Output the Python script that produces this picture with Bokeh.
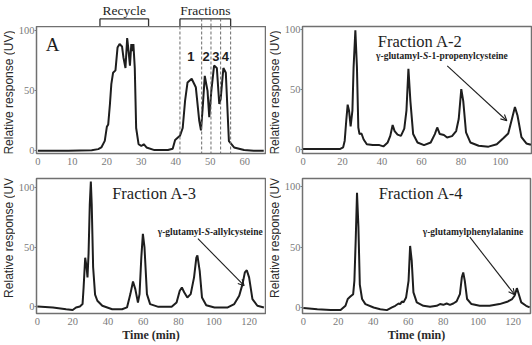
import math
from bokeh.plotting import figure
from bokeh.layouts import column, row
from bokeh.models import Label, Arrow, OpenHead, FixedTicker, Range1d, Span
from bokeh.embed import file_html
from bokeh.resources import INLINE
from bokeh.core.properties import value

# ---------------- data ----------------
a_time = [0, 8.8, 15.6, 17.5, 18.4, 19.4, 20.0, 20.4, 20.9, 21.3,
          21.8, 22.5, 23.1, 23.7, 24.4, 24.8, 25.4, 25.9, 26.3, 26.7,
          27.1, 27.4, 27.7, 28.1, 28.5, 29.2, 30.0, 30.7, 31.5, 33.8,
          37.7, 39.1, 39.8, 40.6, 41.2, 42.0, 42.7, 43.4, 44.6, 45.8,
          46.8, 47.3, 47.8, 48.4, 49.2, 49.7, 50.3, 51.1, 51.9, 52.6,
          53.0, 53.8, 54.5, 55.4, 56.9, 59.8, 62.6, 65.5]
a_resp = [0, 0, 0.5, 1.4, 2.8, 8.3, 20, 22, 39, 55.6,
          65, 67, 86, 89, 87, 78, 69, 94, 83, 71,
          89, 83, 89, 69, 19, 5.5, 4, 5.5, 2.8, 0.6,
          0.6, 1.7, 9, 11, 12.5, 19, 42, 57, 60, 53,
          25, 17, 36, 62.5, 50, 28, 50, 71, 69, 39,
          43, 69, 65, 8, 2.8, 0.6, 0, 0]
recycle_span = [18.0, 32.1]
fraction_bounds = [41.2, 47.5, 50.2, 53.0, 55.9]
fraction_labels = ["1", "2", "3", "4"]
fraction_label_x = [44.4, 48.8, 51.6, 54.4]
fraction_label_y = [79, 79, 79, 79]
bracket_names = ["Recycle", "Fractions"]

a2_time = [0, 18.6, 20.3, 21.1, 21.9, 22.6, 23.3, 24.1, 25.0, 25.6,
           26.5, 27.3, 28.0, 28.6, 29.6, 30.7, 32.3, 35.3, 38.7, 40.7,
           42.9, 44.2, 45.4, 46.4, 47.9, 49.6, 51.3, 52.4, 53.4, 54.4,
           55.8, 58.0, 61.3, 64.7, 66.8, 68.0, 69.3, 71.4, 73.0, 75.5,
           77.6, 78.9, 80.2, 81.2, 82.6, 84.8, 89.0, 94.0, 98.2, 101.5,
           104.0, 106.0, 107.4, 108.7, 110.7, 113.2, 115.5]
a2_resp = [0, 0, 1.4, 7, 24, 37, 32, 19, 32, 68,
           99, 68, 18, 12.5, 13, 8, 4, 3.3, 3.3, 2.2,
           5.5, 11, 20, 15, 12, 11, 17, 32, 67, 40,
           12.5, 5.5, 3.3, 5.5, 12.5, 18, 12.5, 11.7, 9.7, 10.8,
           15, 25, 50, 40, 14, 5.5, 2.8, 2, 4, 9,
           13, 26, 35, 28, 10, 4.7, 3.6]

a3_time = [0, 8.8, 16.3, 20.0, 21.9, 24.1, 25.6, 26.2, 27.1, 27.9,
           28.4, 29.0, 29.7, 30.3, 30.8, 31.6, 32.7, 34.0, 36.8, 42.4,
           48.0, 50.8, 52.7, 54.2, 55.5, 57.0, 57.9, 58.9, 59.8, 60.7,
           62.1, 63.9, 68.6, 76.1, 78.9, 80.7, 81.9, 83.2, 85.0, 86.9,
           88.8, 90.1, 90.7, 92.0, 93.3, 95.7, 100.4, 107.9, 111.6, 114.4,
           116.3, 117.6, 118.7, 120.0, 121.9, 124.7, 128.4]
a3_resp = [0, -0.8, -2.3, -3, -0.8, 0, 2, 16, 41, 33,
           24.5, 44, 86, 105, 86, 33, 10, 4.8, 0.6, -2.3,
           -2.3, -0.8, 10.4, 21, 14.6, 3.4, 10.4, 41, 61, 50,
           10.4, 2, -0.3, -0.3, 3.4, 13.2, 16, 12, 7.6, 10.4,
           24.5, 41, 43, 30, 7.6, 1.1, -0.8, -0.8, 2, 9,
           19, 28.7, 30.5, 24.5, 6.2, 0.6, -0.8]

a4_time = [0, 8.0, 15.6, 21.3, 24.1, 25.4, 26.9, 28.5, 29.2, 30.0,
           30.7, 31.5, 32.3, 33.6, 35.5, 40.2, 44.0, 47.8, 50.7, 52.6,
           54.5, 55.4, 56.4, 57.3, 58.8, 60.2, 61.1, 62.0, 63.0, 64.9,
           68.7, 72.5, 76.3, 78.2, 80.1, 82.0, 83.9, 85.8, 87.7, 89.6,
           90.7, 91.5, 92.4, 93.7, 96.2, 100.9, 106.6, 112.3, 117.1, 119.5,
           120.9, 122.2, 123.3, 124.7, 127.5, 129.5]
a4_resp = [-0.5, -1.4, -2.2, -2.2, 1.4, 7, 9, 11, 22, 58,
           95, 67, 19, 7, 2.8, 0, -1.4, -2.2, 0, 1.4,
           3.3, 2.8, 5, 4.2, 8.3, 22, 51, 39, 12.5, 4.2,
           1.4, 0.6, 1.4, 2.8, 2.2, 3.3, 2.2, 3.3, 5, 11,
           25, 29, 22, 7, 2.8, 1.4, 1.4, 2.8, 5, 7,
           9.7, 16, 11, 4.2, 1.4, 0]

x_ticks_a = [0, 10, 20, 30, 40, 50, 60]
x_ticks_a2 = [0, 20, 40, 60, 80, 100]
x_ticks_b = [0, 20, 40, 60, 80, 100, 120]
y_ticks = [0, 50, 100]

y_label = "Relative response (UV)"
x_label = "Time (min)"
panel_letter = "A"
titles = ["Fraction A-2", "Fraction A-3", "Fraction A-4"]
name_a2 = ["\u03b3-glutamyl-", "S", "-1-propenylcysteine"]
name_a3 = ["\u03b3-glutamyl-", "S", "-allylcysteine"]
name_a4 = ["\u03b3-glutamylphenylalanine"]

SERIF = "Liberation Serif"
SANS = "Liberation Sans"
INK = "#1e1e1e"
LABEL_W = 15


def make_fig(w, h, borders, xr, yr, xticks, xlabel=None):
    bl, br, bt, bb = borders
    xrange = xr if isinstance(xr, Range1d) else Range1d(*xr)
    p = figure(width=w, height=h, x_range=xrange, y_range=Range1d(*yr),
               output_backend="svg", toolbar_location=None,
               min_border_left=bl, min_border_right=br,
               min_border_top=bt, min_border_bottom=bb)
    p.xgrid.visible = False
    p.ygrid.visible = False
    p.outline_line_color = "#707070"
    p.outline_line_width = 1.5
    p.outline_line_alpha = 1.0
    p.background_fill_color = "white"
    p.border_fill_color = "white"
    p.xaxis.ticker = FixedTicker(ticks=xticks)
    p.yaxis.ticker = FixedTicker(ticks=y_ticks)
    for ax in (p.xaxis[0], p.yaxis[0]):
        ax.axis_line_color = None
        ax.minor_tick_line_color = None
        ax.major_label_text_font = SERIF
        ax.major_label_text_font_size = "10.5px"
        ax.major_label_text_color = "#7a7a7a"
    p.xaxis.major_tick_line_color = None
    p.xaxis.major_tick_out = 0
    p.xaxis.major_tick_in = 0
    p.xaxis.major_label_standoff = 4
    p.yaxis.major_tick_out = 2
    p.yaxis.major_tick_in = 0
    p.yaxis.major_tick_line_color = "#7a7a7a"
    p.yaxis.major_label_standoff = 0
    if xlabel:
        p.xaxis.axis_label = xlabel
        p.xaxis.axis_label_standoff = 0
        p.xaxis.axis_label_text_font = SERIF
        p.xaxis.axis_label_text_font_size = "12px"
        p.xaxis.axis_label_text_font_style = "bold"
        p.xaxis.axis_label_text_color = "#2a2a2a"
    return p


def label_strip(h, center_from_bottom):
    s = figure(width=LABEL_W, height=h, x_range=Range1d(0, LABEL_W), y_range=Range1d(0, h),
               output_backend="svg", toolbar_location=None,
               min_border_left=0, min_border_right=0, min_border_top=0, min_border_bottom=0)
    s.axis.visible = False
    s.grid.visible = False
    s.outline_line_color = None
    s.text(x=[8.8], y=[center_from_bottom], text=[y_label], angle=math.pi / 2,
           text_font=value(SANS), text_font_size="12px", text_align="center",
           text_baseline="middle", text_color="#2a2a2a")
    return s


def add_name(p, pieces, x, y, size=9.5):
    offsets = [0, 4.944 * size, 5.5 * size]
    for i, t in enumerate(pieces):
        p.add_layout(Label(x=x, y=y, x_offset=offsets[i], text=t,
                           text_font=SERIF, text_font_size=f"{size}px",
                           text_font_style="bold italic" if t == "S" else "bold",
                           text_align="left", text_baseline="middle", text_color=INK))


def add_arrow(p, x0, y0, x1, y1):
    p.add_layout(Arrow(end=OpenHead(size=6, line_width=1.1, line_color=INK),
                       x_start=x0, y_start=y0, x_end=x1, y_end=y1,
                       line_width=1.1, line_color=INK))


PW = 266 - LABEL_W   # plot width to the right of each label strip
BL = 35 - LABEL_W    # left border so that frames start at x=35 / x=301

# ---- panel A (with a bracket strip above it that shares its x range) ----
xrA = Range1d(-0.4, 66.3)
yrA = (-2.25, 103.6)
strip = figure(width=PW, height=26, x_range=xrA, y_range=Range1d(0, 26),
               output_backend="svg", toolbar_location=None,
               min_border_left=BL, min_border_right=0, min_border_top=0, min_border_bottom=0)
strip.axis.visible = False
strip.grid.visible = False
strip.outline_line_color = None
brk_y = 7.7
spans = [recycle_span, [fraction_bounds[0], fraction_bounds[-1]]]
strip.segment(x0=[s[0] for s in spans], x1=[s[1] for s in spans], y0=brk_y, y1=brk_y,
              line_color="#333333", line_width=1.3)
legs = [recycle_span[0], recycle_span[1], fraction_bounds[0], fraction_bounds[-1]]
strip.segment(x0=legs, x1=legs, y0=0, y1=brk_y, line_color="#333333", line_width=1.3)
inner = fraction_bounds[1:-1]
strip.segment(x0=inner, x1=inner, y0=0, y1=brk_y, line_color="#6a6a6a", line_width=1,
              line_dash="3 2")
strip.text(x=[sum(s) / 2 for s in spans], y=[9.0, 9.0], text=bracket_names,
           text_font=value(SERIF), text_font_size="13.5px", text_align="center",
           text_baseline="bottom", text_color=INK)

pA = make_fig(PW, 146, (BL, 0, 0, 19), xrA, yrA, x_ticks_a)
pA.line(a_time, a_resp, line_width=2, color=INK)
for xb in fraction_bounds:
    pA.add_layout(Span(location=xb, dimension="height", line_color="#6a6a6a",
                       line_width=1, line_dash="3 2"))
pA.text(x=fraction_label_x, y=fraction_label_y, text=fraction_labels,
        text_font=value(SANS), text_font_style="bold", text_font_size="13px",
        text_align="center", text_baseline="middle", text_color=INK)
pA.add_layout(Label(x=2.3, y=89, text=panel_letter, text_font=SERIF, text_font_size="19px",
                    text_align="left", text_baseline="middle", text_color=INK))

# ---- panel A-2 ----
p2 = make_fig(PW, 172, (BL, 1, 26, 19), (-0.3, 115.8), (-3.7, 102.2), x_ticks_a2)
p2.line(a2_time, a2_resp, line_width=2, color=INK)
p2.add_layout(Label(x=37.9, y=89.7, text=titles[0], text_font=SERIF, text_font_size="16.5px",
                    text_align="left", text_baseline="middle", text_color=INK))
add_name(p2, name_a2, 37.0, 77.8)
add_arrow(p2, 73.1, 69.4, 103.3, 23.6)

# ---- panel A-3 ----
p3 = make_fig(PW, 173, (BL, 1, 6, 32), (-0.5, 129.3), (-5.9, 107.6), x_ticks_b, x_label)
p3.line(a3_time, a3_resp, line_width=2, color=INK)
p3.add_layout(Label(x=42.4, y=95, text=titles[1], text_font=SERIF, text_font_size="16.5px",
                    text_align="left", text_baseline="middle", text_color=INK))
add_name(p3, name_a3, 68.2, 62.5)
add_arrow(p3, 91.0, 57.0, 117.2, 17.5)

# ---- panel A-4 ----
p4 = make_fig(PW, 173, (BL, 2, 6, 32), (-0.5, 130.0), (-5.0, 106.9), x_ticks_b, x_label)
p4.line(a4_time, a4_resp, line_width=2, color=INK)
p4.add_layout(Label(x=43.1, y=94.4, text=titles[2], text_font=SERIF, text_font_size="16.5px",
                    text_align="left", text_baseline="middle", text_color=INK))
add_name(p4, name_a4, 68.3, 62.5)
add_arrow(p4, 95.3, 58.3, 120.9, 10.6)

top = row(label_strip(172, 82.5), column(strip, pA), label_strip(172, 82.5), p2)
bottom = row(label_strip(173, 99.5), p3, label_strip(173, 99.5), p4)
layout = column(top, bottom)
open("out.html", "w").write(file_html(layout, INLINE))
